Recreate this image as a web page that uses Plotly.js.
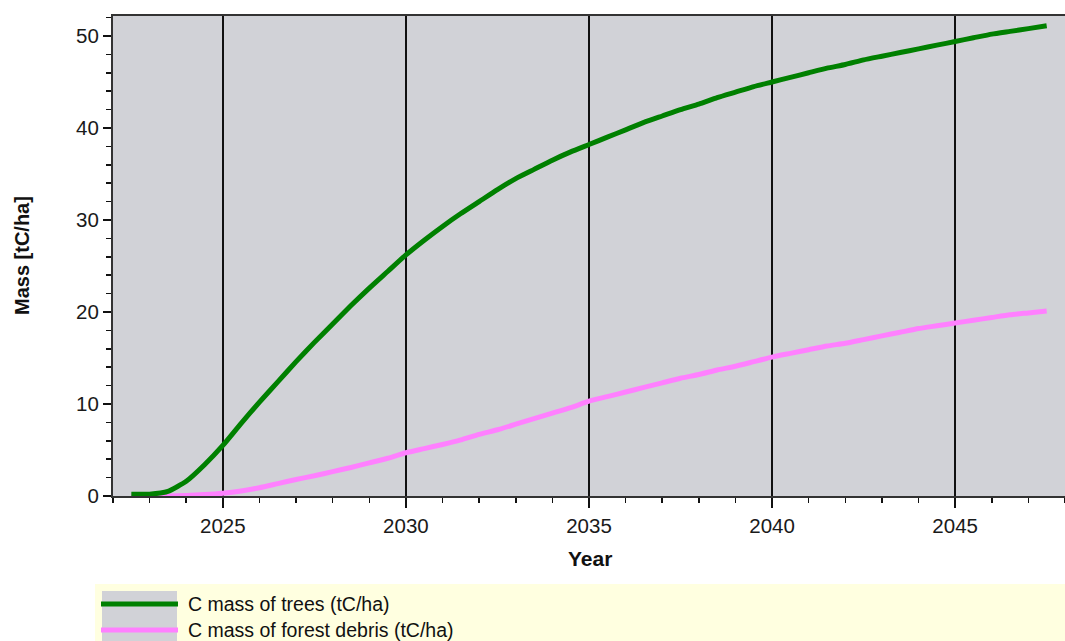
<!DOCTYPE html>
<html><head><meta charset="utf-8">
<script src="https://cdn.plot.ly/plotly-3.0.1.min.js"></script>
<style>html,body{margin:0;padding:0;background:#fff}#chart{width:1065px;height:641px}</style>
</head><body><div id="chart"></div>
<script>
const years = [2022.5,2023,2023.5,2024,2024.5,2025,2025.5,2026,2026.5,2027,2027.5,2028,2028.5,2029,2029.5,2030,2030.5,2031,2031.5,2032,2032.5,2033,2033.5,2034,2034.5,2035,2035.5,2036,2036.5,2037,2037.5,2038,2038.5,2039,2039.5,2040,2040.5,2041,2041.5,2042,2042.5,2043,2043.5,2044,2044.5,2045,2045.5,2046,2046.5,2047,2047.5];
const treesMass = [0.2,0.2,0.5,1.6,3.4,5.5,7.9,10.2,12.4,14.6,16.7,18.7,20.7,22.6,24.4,26.2,27.8,29.3,30.7,32.0,33.3,34.5,35.5,36.5,37.4,38.2,39.0,39.8,40.6,41.3,42.0,42.6,43.3,43.9,44.5,45.0,45.5,46.0,46.5,46.9,47.4,47.8,48.2,48.6,49.0,49.4,49.8,50.2,50.5,50.8,51.1];
const debrisMass = [0.0,0.0,0.0,0.05,0.15,0.3,0.55,0.9,1.35,1.8,2.2,2.65,3.1,3.6,4.1,4.7,5.15,5.6,6.1,6.7,7.2,7.8,8.4,9.0,9.6,10.3,10.8,11.3,11.8,12.3,12.8,13.2,13.7,14.1,14.6,15.1,15.5,15.9,16.3,16.6,17.0,17.4,17.8,18.2,18.5,18.8,19.1,19.4,19.7,19.9,20.1];
const seriesNames = ["C mass of trees (tC/ha)","C mass of forest debris (tC/ha)"];
const seriesColors = ["#008000","#ff80ff"];
const xTicks = [2025,2030,2035,2040,2045];
const yTicks = [0,10,20,30,40,50];

const W=1065,H=641,L=113,R=1065,T=16,B=496;
const px=x=>(x-L)/(R-L), py=y=>(B-y)/(B-T);
const FAM="Liberation Sans, Arial, sans-serif";
const tickFont={family:FAM,size:20.5,color:"#1a1a1a"};

const traces=[
 {x:years,y:debrisMass,type:"scatter",mode:"lines",name:seriesNames[1],line:{color:seriesColors[1],width:5,shape:"spline",smoothing:0.5},showlegend:false,hoverinfo:"skip"},
 {x:years,y:treesMass,type:"scatter",mode:"lines",name:seriesNames[0],line:{color:seriesColors[0],width:5,shape:"spline",smoothing:0.5},showlegend:false,hoverinfo:"skip"}
];

const shapes=[
 {type:"rect",xref:"paper",yref:"paper",x0:px(95),x1:px(1066),y0:py(642),y1:py(584),fillcolor:"#ffffe0",line:{width:0},layer:"above"},
 {type:"rect",xref:"paper",yref:"paper",x0:px(102),x1:px(177),y0:py(642),y1:py(591),fillcolor:"#d1d2d7",line:{width:0},layer:"above"},
 {type:"line",xref:"paper",yref:"paper",x0:px(101),x1:px(178),y0:py(604),y1:py(604),line:{color:seriesColors[0],width:5},layer:"above"},
 {type:"line",xref:"paper",yref:"paper",x0:px(101),x1:px(178),y0:py(630),y1:py(630),line:{color:seriesColors[1],width:5},layer:"above"}
];
const annotations=[
 {xref:"paper",yref:"paper",x:px(186),y:py(604),xanchor:"left",yanchor:"middle",showarrow:false,text:seriesNames[0],font:{family:FAM,size:19.5,color:"#111"}},
 {xref:"paper",yref:"paper",x:px(186),y:py(630),xanchor:"left",yanchor:"middle",showarrow:false,text:seriesNames[1],font:{family:FAM,size:19.5,color:"#111"}},
 {xref:"paper",yref:"paper",x:px(22),y:py(256),xanchor:"center",yanchor:"middle",textangle:-90,showarrow:false,text:"<b>Mass [tC/ha]</b>",font:{family:FAM,size:20,color:"#111"}},
 {xref:"paper",yref:"paper",x:px(590),y:py(558),xanchor:"center",yanchor:"middle",showarrow:false,text:"<b>Year</b>",font:{family:FAM,size:21,color:"#111"}}
];

const layout={
 width:W,height:H,
 margin:{l:L,r:W-R,t:T,b:H-B,pad:0},
 paper_bgcolor:"#ffffff",plot_bgcolor:"#d1d2d7",
 showlegend:false,
 xaxis:{range:[2022,2048],tickvals:xTicks,ticktext:xTicks.map(String),ticks:"outside",ticklen:10,tickwidth:1.5,tickcolor:"#111",
   showgrid:true,gridcolor:"#111",gridwidth:1.5,zeroline:false,showline:true,linecolor:"#333",linewidth:2,mirror:true,
   tickfont:tickFont,automargin:false,
   minor:{dtick:1,tick0:2022,ticks:"outside",ticklen:5,tickwidth:1.5,tickcolor:"#111",showgrid:false}},
 yaxis:{range:[0,52.17],tickvals:yTicks,ticktext:yTicks.map(String),ticks:"outside",ticklen:8,tickwidth:1.5,tickcolor:"#111",
   showgrid:false,zeroline:false,showline:true,linecolor:"#333",linewidth:2,mirror:true,
   tickfont:tickFont,automargin:false,
   minor:{dtick:2,tick0:0,ticks:"outside",ticklen:5,tickwidth:1.5,tickcolor:"#111",showgrid:false}},
 shapes:shapes,annotations:annotations
};
Plotly.newPlot("chart",traces,layout,{staticPlot:true,displayModeBar:false});
</script></body></html>
